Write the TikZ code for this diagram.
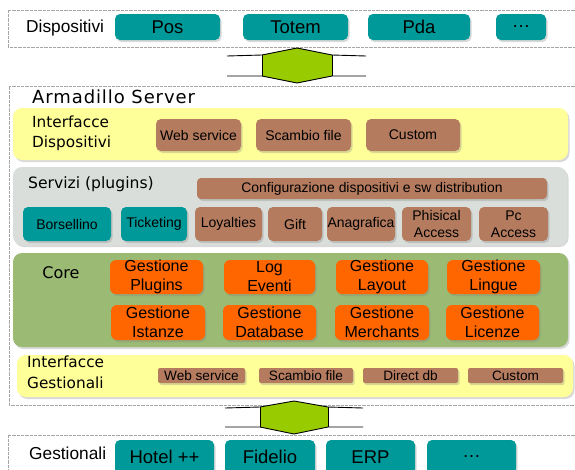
\documentclass[tikz,border=0pt]{standalone}
\usepackage{fontspec}
\setmainfont{Liberation Sans}
\newfontfamily\dvs{DejaVu Sans}
\newfontfamily\dvsw[LetterSpace=5]{DejaVu Sans}
\usetikzlibrary{shadows}
\definecolor{tealc}{HTML}{009999}
\definecolor{brownc}{HTML}{B47B5F}
\definecolor{yelc}{HTML}{FFFF99}
\definecolor{grayc}{HTML}{D9DEDB}
\definecolor{corec}{HTML}{9BBA74}
\definecolor{orc}{HTML}{FF6600}
\definecolor{arrc}{HTML}{99CC00}
\tikzset{
  frameline/.style={draw=gray!70, dash pattern=on 0.6pt off 0.7pt, line width=0.6pt},
  shad/.style={drop shadow={shadow xshift=1.5pt, shadow yshift=-2pt, opacity=0.3}},
  band/.style={shad, rounded corners=9pt},
  tealbox/.style={shad, fill=tealc, rounded corners=5pt, inner sep=0pt, align=center,
    font=\fontsize{18.5}{20}\selectfont},
  brbox/.style={shad, fill=brownc, rounded corners=5pt, inner sep=0pt, align=center,
    font=\fontsize{14}{16.5}\selectfont},
  smallbr/.style={shad, fill=brownc, rounded corners=2pt, inner sep=0pt, align=center,
    font=\fontsize{13.6}{15}\selectfont},
  srvteal/.style={shad, fill=tealc, rounded corners=5pt, inner sep=0pt, align=center,
    font=\fontsize{14}{16.5}\selectfont},
  orbox/.style={shad, fill=orc, rounded corners=6pt, inner sep=0pt, align=center,
    font=\fontsize{16}{19}\selectfont},
  lbl/.style={inner sep=0pt, anchor=west, align=left},
  arrowline/.style={draw=black, line width=0.9pt},
}
\begin{document}
\begin{tikzpicture}[x=1pt,y=-1pt]
\useasboundingbox (0,0) rectangle (575,469);
% ---- top frame: Dispositivi
\draw[frameline] (575,10) -- (8,10) -- (8,47) -- (575,47);
\node[lbl, font=\fontsize{17.3}{19}\selectfont] (disp) at (26,28) {Dispositivi};
\node[tealbox, minimum width=105pt, minimum height=26pt] (pos) at (167.5,27) {Pos};
\node[tealbox, minimum width=105pt, minimum height=26pt] (totem) at (295.5,27) {Totem};
\node[tealbox, minimum width=102pt, minimum height=26pt] (pda) at (419,27) {Pda};
\node[tealbox, minimum width=50pt, minimum height=26pt] (dots1) at (521,27) {\ldots};
% ---- top double arrow
\fill[arrc] (262,55) -- (297,48) -- (332,55) -- (332,76) -- (297,83) -- (262,76) -- cycle;
\draw[arrowline] (227,56) -- (262,55) -- (297,48) -- (332,55) -- (366,56);
\draw[arrowline] (227,76) -- (262,76) -- (297,83) -- (332,76) -- (366,76);
\draw[arrowline] (262,55) -- (262,76);
\draw[arrowline] (332,55) -- (332,76);
% ---- Armadillo server frame
\draw[frameline] (575,86) -- (9,86) -- (9,405) -- (575,405);
\node[lbl, font=\dvsw\fontsize{18}{20}\selectfont] (arm) at (32,97) {Armadillo Server};
% Interfacce Dispositivi band
\path[band, fill=yelc] (13,108) rectangle (568,160);
\node[lbl, font=\dvs\fontsize{15.3}{20}\selectfont] (ifd) at (32,133) {Interfacce\\Dispositivi};
\node[brbox, minimum width=85pt, minimum height=32pt] (ws1) at (198.5,135) {Web service};
\node[brbox, minimum width=95pt, minimum height=32pt] (sf1) at (303.5,135) {Scambio file};
\node[brbox, minimum width=94pt, minimum height=32pt] (cu1) at (413,135) {Custom};
% Servizi band
\path[band, fill=grayc] (13,167) rectangle (567,245);
\node[lbl, font=\dvs\fontsize{15.6}{18}\selectfont] (srv) at (28,184) {Servizi (plugins)};
\node[brbox, rounded corners=4pt, minimum width=350pt, minimum height=21pt, font=\fontsize{13.9}{15}\selectfont] (conf) at (372,188.5) {Configurazione dispositivi e sw distribution};
\node[srvteal, minimum width=88pt, minimum height=34pt] (bors) at (67,224) {Borsellino};
\node[srvteal, minimum width=66pt, minimum height=34pt] (tick) at (154,224) {Ticketing};
\node[brbox, minimum width=67pt, minimum height=34pt] (loy) at (228.5,224) {Loyalties};
\node[brbox, minimum width=54pt, minimum height=34pt] (gift) at (295,224) {Gift};
\node[brbox, minimum width=68pt, minimum height=34pt] (ana) at (361,224) {Anagrafica};
\node[brbox, minimum width=69pt, minimum height=34pt] (phy) at (436.5,224) {Phisical\\Access};
\node[brbox, minimum width=69pt, minimum height=34pt] (pc) at (513.5,224) {Pc\\Access};
% Core band
\path[band, fill=corec] (13,253) rectangle (568,347);
\node[font=\dvs\fontsize{16}{18}\selectfont, inner sep=0pt] (core) at (61,273) {Core};
\node[orbox, minimum width=93pt, minimum height=34pt] (gpl) at (156.5,277) {Gestione\\Plugins};
\node[orbox, minimum width=91pt, minimum height=34pt] (log) at (269.5,277) {Log\\Eventi};
\node[orbox, minimum width=92pt, minimum height=34pt] (glay) at (382,277) {Gestione\\Layout};
\node[orbox, minimum width=93pt, minimum height=34pt] (gling) at (493.5,277) {Gestione\\Lingue};
\node[orbox, minimum width=94pt, minimum height=35pt] (gist) at (158,322.5) {Gestione\\Istanze};
\node[orbox, minimum width=93pt, minimum height=35pt] (gdb) at (269.5,322.5) {Gestione\\Database};
\node[orbox, minimum width=94pt, minimum height=35pt] (gmer) at (382,322.5) {Gestione\\Merchants};
\node[orbox, minimum width=93pt, minimum height=35pt] (glic) at (492.5,322.5) {Gestione\\Licenze};
% Interfacce Gestionali band
\path[band, fill=yelc] (17,355) rectangle (573,397);
\node[lbl, font=\dvs\fontsize{15.3}{20.5}\selectfont] (ifg) at (27,372.5) {Interfacce\\Gestionali};
\node[smallbr, minimum width=87pt, minimum height=15pt] (ws2) at (201.5,375.5) {Web service};
\node[smallbr, minimum width=94pt, minimum height=15pt] (sf2) at (306,375.5) {Scambio file};
\node[smallbr, minimum width=95pt, minimum height=15pt] (ddb) at (410.5,375.5) {Direct db};
\node[smallbr, minimum width=95pt, minimum height=15pt] (cu2) at (515.5,375.5) {Custom};
% ---- bottom double arrow
\fill[arrc] (260,407) -- (294,401) -- (328,407) -- (328,427) -- (294,434) -- (260,427) -- cycle;
\draw[arrowline] (225,408) -- (260,407) -- (294,401) -- (328,407) -- (363,408);
\draw[arrowline] (225,427) -- (260,427) -- (294,434) -- (328,427) -- (363,427);
\draw[arrowline] (260,407) -- (260,427);
\draw[arrowline] (328,407) -- (328,427);
% ---- Gestionali frame
\draw[frameline] (575,435) -- (8,435) -- (8,469);
\node[lbl, font=\fontsize{17.3}{19}\selectfont] (gest) at (29,453) {Gestionali};
\node[tealbox, minimum width=99pt, minimum height=34pt] (hotel) at (164.5,457) {Hotel ++};
\node[tealbox, minimum width=90pt, minimum height=34pt] (fid) at (270,457) {Fidelio};
\node[tealbox, minimum width=89pt, minimum height=34pt] (erp) at (370.5,457) {ERP};
\node[tealbox, minimum width=89pt, minimum height=34pt] (dots2) at (471.5,457) {\ldots};
\end{tikzpicture}
\end{document}
